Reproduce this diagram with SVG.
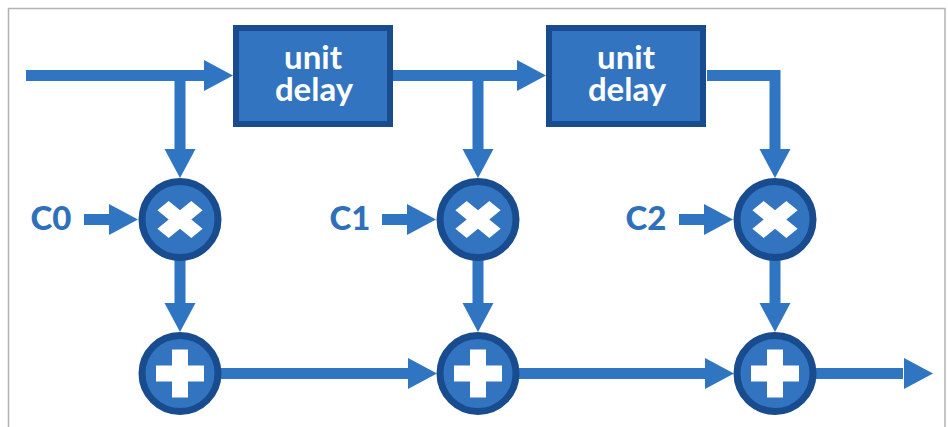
<svg xmlns="http://www.w3.org/2000/svg" width="948" height="427" viewBox="0 0 948 427">
  <style>
    .wire{fill:none;stroke:#2f75c2;stroke-width:11}
    .head{fill:#2f75c2}
    .box{fill:#3274bf;stroke:#184c8e;stroke-width:6}
    .op{fill:#3274bf;stroke:#184c8e;stroke-width:7}
    .sym{fill:#fff}
    .t{font-family:"Lato","Open Sans",sans-serif;font-size:33px;font-weight:700;fill:#fff;text-anchor:middle}
    .c{font-family:"Lato","Open Sans",sans-serif;font-size:33px;font-weight:900;fill:#2f70bb;text-anchor:middle}
  </style>
  <defs>
    <path id="plus" d="M-8-24H8V-8H24V8H8V24H-8V8H-24V-8H-8Z"/>
    <path id="ah" d="M-29-15.5L0 0L-29 15.5Z"/>
  </defs>
  <rect width="948" height="427" fill="#fff"/>
  <path d="M8.5 427V8.5H945V427" fill="none" stroke="#b3b3b3" stroke-width="1.5"/>
  <g id="connectors">
    <path class="wire" d="M26 75.5H206M180 75.5V151"/>
    <path class="wire" d="M393 75.5H519M478 75.5V151"/>
    <path class="wire" d="M707 75.5H775V151"/>
    <path class="wire" d="M84 219.5H111M382 219.5H409M679 219.5H706"/>
    <path class="wire" d="M180 260V305M478 260V305M775 260V305"/>
    <path class="wire" d="M220 373.5H409M518 373.5H707M816 373.5H903"/>
    <use class="head" href="#ah" transform="translate(233 75.5)"/>
    <use class="head" href="#ah" transform="translate(546 75.5)"/>
    <use class="head" href="#ah" transform="translate(180 178) rotate(90)"/>
    <use class="head" href="#ah" transform="translate(478 178) rotate(90)"/>
    <use class="head" href="#ah" transform="translate(775 178) rotate(90)"/>
    <use class="head" href="#ah" transform="translate(138 219.5)"/>
    <use class="head" href="#ah" transform="translate(436 219.5)"/>
    <use class="head" href="#ah" transform="translate(733 219.5)"/>
    <use class="head" href="#ah" transform="translate(180 332) rotate(90)"/>
    <use class="head" href="#ah" transform="translate(478 332) rotate(90)"/>
    <use class="head" href="#ah" transform="translate(775 332) rotate(90)"/>
    <use class="head" href="#ah" transform="translate(437 373.5)"/>
    <use class="head" href="#ah" transform="translate(734 373.5)"/>
    <use class="head" href="#ah" transform="translate(933 373.5)"/>
  </g>
  <g id="delay1"><rect class="box" x="236" y="28" width="154" height="96"/><text class="t"><tspan x="313" y="69">unit</tspan><tspan x="314" y="101">delay</tspan></text></g>
  <g id="delay2"><rect class="box" x="549" y="28" width="154" height="96"/><text class="t"><tspan x="626" y="69">unit</tspan><tspan x="627" y="101">delay</tspan></text></g>
  <g id="c0"><text class="c" x="51" y="230">C0</text></g>
  <g id="c1"><text class="c" x="350" y="230">C1</text></g>
  <g id="c2"><text class="c" x="646" y="230">C2</text></g>
  <g id="mul0"><circle class="op" cx="180" cy="219.5" r="38"/><use class="sym" href="#plus" transform="translate(180 219.5) scale(1 .82) rotate(45)"/></g>
  <g id="mul1"><circle class="op" cx="478" cy="219.5" r="38"/><use class="sym" href="#plus" transform="translate(478 219.5) scale(1 .82) rotate(45)"/></g>
  <g id="mul2"><circle class="op" cx="775" cy="219.5" r="38"/><use class="sym" href="#plus" transform="translate(775 219.5) scale(1 .82) rotate(45)"/></g>
  <g id="add0"><circle class="op" cx="180" cy="373.5" r="38"/><use class="sym" href="#plus" transform="translate(180 373.5)"/></g>
  <g id="add1"><circle class="op" cx="478" cy="373.5" r="38"/><use class="sym" href="#plus" transform="translate(478 373.5)"/></g>
  <g id="add2"><circle class="op" cx="775" cy="373.5" r="38"/><use class="sym" href="#plus" transform="translate(775 373.5)"/></g>
</svg>
